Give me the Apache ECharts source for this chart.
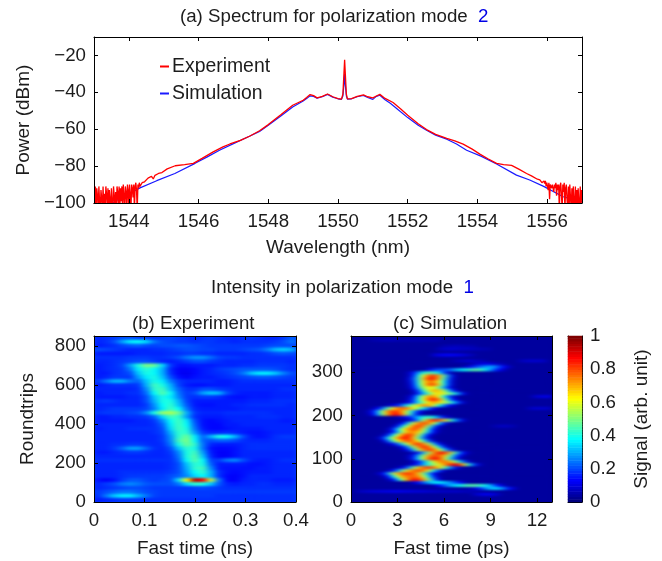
<!DOCTYPE html>
<html>
<head>
<meta charset="utf-8">
<style>
  html, body { margin: 0; padding: 0; background: #fff; }
  #chart { width: 662px; height: 561px; }
  /* the heat panels sit on their own canvas layer: soften the cells like shaded interp, keep them inside the boxes */
  #chart canvas[data-zr-dom-id="zr_1"] {
    filter: url(#heatSoften);
    clip-path: path('M94 336h202v166h-202z M351 336h201v166h-201z');
  }
</style>
<script src="https://cdn.jsdelivr.net/npm/echarts@6/dist/echarts.min.js"></script>
</head>
<body>
<svg width="0" height="0" style="position:absolute">
  <filter id="heatSoften" x="0" y="0" width="100%" height="100%" color-interpolation-filters="sRGB">
    <feGaussianBlur stdDeviation="3 0.9"/>
  </filter>
</svg>
<div id="chart"></div>
<script>
// (a) spectrum
// noisy tails: samples every 0.02 nm, starting at noiseLeftStart / noiseRightStart
var noiseStep = 0.02;
var noiseLeftStart = 1543;
var noiseLeftPower = [-100,-104,-91,-103,-92,-96,-104,-91,-99,-104,-93,-97,-104,-91,-102,-95,-104,-91,-95,-103,-92,-104,-93,-98,-104,-92,-100,-104,-91,-96,-104,-94,-104,-91,-94,-103,-91,-104,-92,-99,-91,-104,-90,-96,-103,-91,-94,-104,-90,-93,-104,-90,-95,-104,-90,-92,-97,-90,-104,-91,-89,-93,-104,-90,-92,-89,-91,-90,-92,-89];
var noiseRightStart = 1555.75;
var noiseRightPower = [-87,-88,-87.5,-88.5,-88,-89,-88,-90,-88,-89.5,-88,-91,-89,-88,-93,-89,-98,-90,-89,-92,-90,-89,-94,-90,-92,-89,-96,-90,-93,-90,-104,-91,-89,-95,-104,-90,-94,-89,-104,-92,-90,-98,-104,-91,-104,-90,-97,-104,-92,-104,-91,-99,-104,-91,-104,-93,-104,-92,-100,-104,-91,-104,-93];
var expCurve = [[1544.4,-89.5],[1544.45,-88.5],[1544.5,-88],[1544.55,-86.5],[1544.6,-87.5],[1544.65,-85.5],[1544.7,-87],[1544.75,-85],[1544.8,-85.5],[1544.85,-84],[1544.95,-83.5],[1545.1,-81.5],[1545.33,-79.8],[1545.6,-79.2],[1545.85,-78.5],[1546.1,-75.8],[1546.42,-72.3],[1546.7,-69.6],[1546.9,-68],[1547.2,-66],[1547.46,-63.8],[1547.75,-60.8],[1548,-57.5],[1548.35,-52.3],[1548.7,-47],[1549,-44.3],[1549.1,-42.8],[1549.2,-41.2],[1549.3,-41.8],[1549.4,-43],[1549.55,-42.2],[1549.7,-40.9],[1549.85,-42.4],[1550,-43.4],[1550.1,-43.7],[1550.14,-41],[1550.17,-30],[1550.19,-22.3],[1550.21,-30],[1550.24,-41],[1550.27,-43.6],[1550.39,-43.4],[1550.55,-42.2],[1550.73,-41.4],[1550.85,-42.4],[1551,-43],[1551.1,-42],[1551.2,-41.1],[1551.35,-43.3],[1551.58,-45.5],[1551.8,-49],[1552,-52.4],[1552.3,-57],[1552.54,-60.2],[1552.8,-62.8],[1553.12,-65],[1553.35,-66.3],[1553.59,-68.1],[1553.85,-70.8],[1554.07,-73.5],[1554.3,-76],[1554.55,-78.5],[1554.75,-79.2],[1554.98,-79.6],[1555.2,-81.8],[1555.41,-84],[1555.55,-85.3],[1555.72,-87.1]];
var simCurve = [[1543.5,-100.5],[1543.7,-98],[1543.94,-95.7],[1544.32,-91.8],[1544.8,-87.9],[1545.32,-84],[1545.9,-78.5],[1546.25,-75],[1546.6,-71.4],[1547,-67.8],[1547.46,-63.8],[1547.75,-61.2],[1548,-57.8],[1548.35,-53],[1548.7,-48],[1549,-44.7],[1549.1,-43.4],[1549.2,-41.9],[1549.3,-42.2],[1549.4,-43.2],[1549.55,-42.4],[1549.7,-41.1],[1549.85,-42.6],[1550,-43.5],[1550.1,-43.8],[1550.14,-42],[1550.17,-36],[1550.19,-30],[1550.21,-36],[1550.24,-42],[1550.27,-43.7],[1550.39,-43.5],[1550.55,-42.4],[1550.73,-41.7],[1550.85,-42.8],[1551,-43.8],[1551.1,-42.2],[1551.2,-41.6],[1551.35,-44],[1551.5,-45.9],[1551.7,-49],[1552,-53.7],[1552.3,-57.8],[1552.54,-60.6],[1552.8,-63.2],[1553.12,-65.4],[1553.4,-68],[1553.69,-71.4],[1554.1,-74.6],[1554.55,-78.9],[1555.12,-84.9],[1555.5,-87.5],[1555.9,-91],[1556.46,-96.6],[1557,-99.4]];

// tick labels
var wavelengthTicks = [1544,1546,1548,1550,1552,1554,1556];
var powerTicks = [-100,-80,-60,-40,-20];
var expTimeTicks = [0,0.1,0.2,0.3,0.4];
var expRoundTicks = [0,200,400,600,800];
var simTimeTicks = [0,3,6,9,12];
var simRoundTicks = [0,100,200,300];
var barTicks = [0,0.2,0.4,0.6,0.8,1];

// (b) experiment, signal in percent, top row first
var expRows = [
[16,17,18,20,20,18,18,17,18,19,18,17,16,17,18,17,16,16,17,18,17,16,16,18,22],
[16,17,20,28,36,38,34,24,20,19,18,18,17,18,18,17,17,16,17,17,17,17,18,20,24],
[15,16,17,19,21,22,20,19,20,20,21,21,20,19,18,18,18,18,18,18,18,19,20,20,20],
[20,19,18,17,16,16,16,17,17,18,19,20,20,19,19,18,18,18,19,20,21,25,31,33,30],
[15,15,15,15,15,16,16,16,16,17,17,18,18,17,17,16,16,16,16,17,17,18,20,21,20],
[17,17,17,17,18,18,18,17,17,18,20,24,27,27,23,19,18,18,17,17,17,17,17,17,17],
[16,16,17,18,19,20,20,18,16,15,16,18,20,20,18,17,16,16,16,16,17,17,17,17,16],
[15,16,17,19,28,40,50,48,34,18,14,14,15,15,15,16,16,16,17,17,18,18,18,18,17],
[15,16,17,18,24,36,42,38,30,16,12,12,13,15,16,18,19,20,21,21,21,21,20,18,17],
[15,15,17,18,20,32,40,38,30,17,12,11,13,15,16,17,18,20,24,32,36,36,32,25,20],
[15,16,18,18,18,28,36,40,32,20,14,12,14,15,15,16,17,18,19,20,21,21,20,19,18],
[18,24,30,30,24,22,32,40,36,25,18,16,16,16,16,15,15,16,17,17,17,17,17,17,17],
[15,16,17,17,17,18,30,44,40,30,19,15,14,14,15,15,15,16,16,16,16,16,16,16,16],
[16,16,16,16,16,17,26,42,44,32,22,17,17,20,20,18,17,16,16,16,16,16,16,17,17],
[15,16,16,16,17,17,23,38,46,38,24,18,20,28,32,30,20,16,15,15,15,15,16,16,16],
[15,15,15,15,16,16,20,32,40,36,26,18,17,18,18,17,15,14,14,15,15,15,16,16,16],
[17,18,17,16,16,16,20,30,40,40,30,19,15,15,15,15,15,15,15,16,16,16,17,17,17],
[16,16,16,16,16,16,18,27,38,42,32,21,15,14,14,15,15,16,16,17,17,17,17,17,16],
[16,17,18,18,18,18,19,25,36,44,38,24,16,15,15,15,15,15,16,16,16,16,16,16,16],
[17,18,18,18,19,20,26,40,52,54,48,30,18,16,16,16,17,17,17,17,17,17,16,16,16],
[15,15,16,16,17,17,18,22,34,44,42,28,17,15,15,15,16,16,16,16,17,17,17,16,16],
[15,15,15,15,15,16,16,18,26,38,44,36,20,14,13,14,15,16,16,16,16,16,16,15,15],
[16,16,16,16,16,16,16,17,22,36,44,38,22,14,13,13,15,15,16,16,16,16,16,16,16],
[15,16,16,16,17,17,17,17,20,34,44,40,24,15,13,13,14,15,15,15,15,16,16,16,16],
[16,16,16,16,16,16,16,17,19,30,42,42,28,18,16,16,17,16,15,14,14,15,16,16,16],
[16,16,16,16,16,16,16,16,18,27,42,48,36,22,30,40,38,30,20,15,14,15,17,18,18],
[16,16,16,16,16,16,16,16,18,26,44,50,38,22,20,22,22,20,17,16,16,16,17,17,17],
[16,16,17,17,18,18,17,16,17,24,40,48,42,24,16,15,15,15,16,17,17,17,17,17,17],
[16,16,18,22,28,28,22,17,16,20,32,42,40,24,14,13,13,14,16,17,17,17,17,17,17],
[15,15,16,17,18,18,17,16,16,18,26,40,44,28,15,12,12,14,16,16,16,16,16,16,16],
[16,16,16,16,16,16,16,16,16,17,24,40,46,32,16,12,12,14,16,16,16,16,16,16,16],
[17,17,17,17,17,17,17,17,17,17,22,38,46,38,19,18,24,26,20,16,15,15,16,17,17],
[16,16,16,16,16,16,16,16,16,17,20,32,42,40,22,15,15,15,15,14,14,15,16,16,16],
[16,16,16,16,16,16,16,16,16,17,20,30,42,44,26,15,14,14,14,14,15,15,16,16,16],
[16,16,16,17,17,17,17,17,17,18,20,28,38,42,30,17,14,13,14,15,15,15,16,16,16],
[16,16,16,17,18,18,18,18,18,20,22,26,34,38,30,17,13,12,14,16,16,16,16,16,16],
[14,12,14,18,21,21,19,18,19,20,34,62,95,88,56,24,13,12,15,16,16,16,15,15,15],
[16,18,20,24,26,24,21,20,20,20,24,34,42,40,32,21,16,15,16,16,17,17,16,16,16],
[16,17,18,19,20,20,19,18,18,18,18,18,19,20,19,18,17,17,17,17,17,17,17,17,17],
[18,20,22,24,24,22,20,19,18,18,18,18,18,18,18,18,18,18,18,18,18,18,18,18,18],
[17,24,32,36,36,30,24,19,18,18,18,18,18,18,18,17,17,17,17,17,17,17,17,17,17],
[15,16,17,18,18,18,17,17,17,17,17,17,17,17,17,17,17,17,17,17,17,17,17,17,17]
];

// (c) simulation, top row first. each row: first column, then its values; the rest is background
var simCols = 40;
var simBackground = 3;
var simRows = [
[],
[4,5,5,6,6,6,5,5,5,5,5,5,5,5,5],
[],
[18,5,5,6,6,5,5,5],
[17,6,7,8,8,7,7,7,6,6,5,5],
[],
[16,8,11,12,13,12,11,9,7,5],
[],
[20,5,6,7,8,7,6,5],
[24,6,8,10,10,8,6,5],
[22,6,10,16,22,26,30,28,20,12,7],
[15,10,16,20,20,22,28,34,38,42,46,46,40,30,20,12,7],
[11,6,14,28,40,46,44,36,20,8],
[11,6,16,38,62,78,82,72,48,24,8],
[11,8,20,42,68,84,85,70,44,20,7],
[11,7,18,40,64,74,74,62,38,18,6],
[11,6,16,38,62,78,80,66,40,18,6],
[11,5,14,32,54,62,60,48,30,14,5],
[12,8,20,40,60,70,68,54,32,14,5],
[12,6,16,30,44,60,66,60,50,42,26,10],
[11,6,14,36,58,72,74,62,38,20,8],
[11,7,18,40,62,78,85,76,54,30,12,5],
[10,6,10,20,36,52,64,72,66,58,48,34,18,7],
[7,6,10,16,28,42,54,66,74,70,58,40,26,14,8],
[4,6,12,26,46,64,76,78,74,62,50,36,24,12,6],
[3,6,14,32,56,76,82,80,68,48,30,14,6],
[3,5,12,30,54,74,86,85,70,46,24,10,4],
[9,6,10,14,22,32,40,44,38,26,14,7],
[11,6,14,30,54,76,85,82,66,52,34,20,8],
[9,6,14,34,58,74,80,76,60,36,16,6],
[8,6,16,38,60,76,82,74,50,26,10,4],
[7,6,16,38,62,74,80,76,58,34,14,5],
[7,6,14,34,58,72,74,66,50,30,12,5],
[6,6,16,38,62,78,84,74,54,30,12,5],
[5,6,16,38,60,76,86,84,68,44,22,8],
[6,8,22,44,62,74,80,74,62,42,22,8],
[7,6,12,24,42,62,78,84,74,56,32,14,5],
[9,6,14,30,54,74,84,78,60,36,16,6],
[10,6,14,32,56,74,82,78,62,40,20,8],
[12,6,14,30,52,72,85,86,72,50,28,12,5],
[11,6,14,32,54,72,80,78,70,52,30,14,6],
[11,6,16,36,60,78,86,84,66,42,22,8],
[12,6,14,28,44,60,72,76,72,58,40,22,8],
[11,5,10,18,30,42,52,60,70,82,90,86,66,40,20,8],
[9,6,12,26,48,68,78,82,78,66,50,32,18,8],
[7,6,14,30,52,68,76,80,74,58,36,20,8],
[5,6,12,30,56,72,80,82,78,68,48,28,12,5],
[6,6,14,36,58,72,76,78,74,58,36,16,6],
[7,6,14,34,58,76,86,84,72,50,26,10],
[12,8,14,22,30,36,38,34,28,22,14,8],
[16,6,12,20,28,34,38,42,46,46,44,40,32,22,12,6],
[23,5,8,14,22,30,34,32,24,14,8],
[1,6,7,8,9,9,10,10,11,11,10,10,9,9,9,8,8,7,7,7,7,7,6,6,5,4],
[24,6,9,11,11,9,6],
[],
[]
];
// faint streaks near the right edge: row, first column, values
var simStreaks = [[20,36,7,9,10,10],[24,35,6,8,8,8,7],[30,28,5,6,7,6,5],[8,33,5,7,8,8,8,7]];

var barLevels = [];
for (var i = 0; i < 64; i++) barLevels.push(i);

var fontName = '"Liberation Sans", Arial, sans-serif';
var inkColor = '#1c1c1c';
var jetColors = ['#00007f','#0000ff','#007fff','#00ffff','#7fff7f','#ffff00','#ff7f00','#ff0000','#7f0000'];

function tailPoints(start, powers) {
  return powers.map(function (p, k) { return [start + k * noiseStep, p]; });
}
var expLine = tailPoints(noiseLeftStart, noiseLeftPower).concat(expCurve, tailPoints(noiseRightStart, noiseRightPower));

function matrixCells(rows) {
  var cells = [];
  rows.forEach(function (row, r) {
    row.forEach(function (v, c) { cells.push([c, rows.length - 1 - r, v]); });
  });
  return cells;
}

// expand the sparse rows of the simulation panel
var simMatrix = simRows.map(function (row) {
  var full = [];
  for (var c = 0; c < simCols; c++) full.push(simBackground);
  for (var k = 1; k < row.length; k++) full[row[0] + k - 1] = row[k];
  return full;
});
simStreaks.forEach(function (s) {
  for (var k = 2; k < s.length; k++) simMatrix[s[0]][s[1] + k - 2] = s[k];
});

function indexList(n) {
  var a = [];
  for (var k = 0; k < n; k++) a.push(k);
  return a;
}

function minusLabel(v) {
  return String(v).replace('-', '\u2212');
}

var xAxes = [], yAxes = [];

// one value axis of a panel box
function boxAxis(gridIndex, position, min, max, ticks, showLabels, name, nameGap, tickOn) {
  var vertical = position === 'left' || position === 'right';
  return {
    type: 'value', gridIndex: gridIndex, position: position, min: min, max: max, zlevel: 2,
    axisLine: { show: true, onZero: false, lineStyle: { color: '#000', width: 1 } },
    axisTick: { show: tickOn !== false, inside: true, length: 4, customValues: ticks, lineStyle: { color: '#000', width: 1 } },
    axisLabel: { show: showLabels, customValues: ticks, margin: vertical ? 8 : 9, padding: vertical ? [8, 0, 0, 0] : 0,
      fontFamily: fontName, fontSize: 18.7, color: inkColor, formatter: minusLabel },
    splitLine: { show: false },
    name: name || '', nameLocation: 'middle', nameGap: nameGap || 0,
    nameTextStyle: { fontFamily: fontName, fontSize: 19, color: inkColor }
  };
}

// adds the four sides of a panel
function addBox(g, xr, yr, xTicks, yTicks, xName, xGap, yName, yGap) {
  xAxes.push(boxAxis(g, 'bottom', xr[0], xr[1], xTicks, true, xName, xGap));
  xAxes.push(boxAxis(g, 'top', xr[0], xr[1], xTicks, false));
  yAxes.push(boxAxis(g, 'left', yr[0], yr[1], yTicks, true, yName, yGap));
  yAxes.push(boxAxis(g, 'right', yr[0], yr[1], yTicks, false));
}

// hidden category axes that carry the cells of a heat panel; returns their indexes
function addCellAxes(g, nx, ny) {
  xAxes.push({ type: 'category', gridIndex: g, show: false, data: indexList(nx) });
  yAxes.push({ type: 'category', gridIndex: g, show: false, data: indexList(ny) });
  return { x: xAxes.length - 1, y: yAxes.length - 1 };
}

function heatSeries(name, axes, cells, layer) {
  return {
    name: name, type: 'heatmap', xAxisIndex: axes.x, yAxisIndex: axes.y, data: cells, zlevel: layer,
    silent: true, progressive: 0, emphasis: { disabled: true }, itemStyle: { borderWidth: 0 }
  };
}

// panel (a)
addBox(0, [1543, 1557], [-100, -10], wavelengthTicks, powerTicks, 'Wavelength (nm)', 35, 'Power (dBm)', 60);
// panel (b)
addBox(1, [0, 0.4], [0, 851], expTimeTicks, expRoundTicks, 'Fast time (ns)', 37, 'Roundtrips', 57);
var expAxes = addCellAxes(1, expRows[0].length, expRows.length);
// panel (c)
addBox(2, [0, 12.96], [0, 384], simTimeTicks, simRoundTicks, 'Fast time (ps)', 37);
var simAxes = addCellAxes(2, simCols, simRows.length);

// colour bar: box without ticks, ticks and labels on the right
xAxes.push(boxAxis(3, 'bottom', 0, 1, [], false, '', 0, false));
xAxes.push(boxAxis(3, 'top', 0, 1, [], false, '', 0, false));
yAxes.push(boxAxis(3, 'left', 0, 1, barTicks, false, '', 0, false));
yAxes.push(boxAxis(3, 'right', 0, 1, barTicks, true, 'Signal (arb. unit)', 50));
var barAxes = addCellAxes(3, 1, barLevels.length);
var barCells = barLevels.map(function (lv, k) { return [0, k, lv * 100 / (barLevels.length - 1)]; });

function panelTitle(text, left, top) {
  return {
    text: text, left: left, top: top, padding: 0,
    textStyle: { fontFamily: fontName, fontSize: 18.7, fontWeight: 'normal', color: inkColor,
      rich: { m: { fontFamily: fontName, fontSize: 18.7, color: '#0000e6' } } }
  };
}

var option = {
  animation: false,
  backgroundColor: '#fff',
  textStyle: { fontFamily: fontName },
  title: [
    panelTitle('(a) Spectrum for polarization mode  {m|2}', 180, 7),
    panelTitle('Intensity in polarization mode  {m|1}', 211, 278),
    panelTitle('(b) Experiment', 132, 314),
    panelTitle('(c) Simulation', 393, 314)
  ],
  legend: {
    data: ['Experiment', 'Simulation'],
    orient: 'vertical', left: 160, top: 57, padding: 0, itemWidth: 9, itemHeight: 2, itemGap: 8,
    icon: 'rect', selectedMode: false,
    textStyle: { fontFamily: fontName, fontSize: 19.4, color: inkColor, padding: [0, 0, 0, -2], lineHeight: 18 }
  },
  grid: [
    { left: 94, top: 37, width: 488, height: 166 },
    { left: 94, top: 336, width: 202, height: 166, show: true, backgroundColor: '#0040ff', borderWidth: 0 },
    { left: 351, top: 336, width: 201, height: 166, show: true, backgroundColor: '#00009a', borderWidth: 0 },
    { left: 568, top: 336, width: 14, height: 166 }
  ],
  xAxis: xAxes,
  yAxis: yAxes,
  visualMap: {
    show: false, type: 'continuous', min: 0, max: 100, dimension: 2,
    seriesIndex: [2, 3, 4], inRange: { color: jetColors }
  },
  series: [
    { name: 'Simulation', type: 'line', xAxisIndex: 0, yAxisIndex: 0, data: simCurve, showSymbol: false,
      color: '#1a1aff', lineStyle: { color: '#1a1aff', width: 1.2 }, clip: true, silent: true },
    { name: 'Experiment', type: 'line', xAxisIndex: 0, yAxisIndex: 0, data: expLine, showSymbol: false,
      color: '#ff0000', lineStyle: { color: '#ff0000', width: 1.3 }, clip: true, silent: true },
    heatSeries('Experiment intensity', expAxes, matrixCells(expRows), 1),
    heatSeries('Simulation intensity', simAxes, matrixCells(simMatrix), 1),
    heatSeries('Colour bar', barAxes, barCells, 2)
  ]
};

var chart = echarts.init(document.getElementById('chart'), null, { renderer: 'canvas' });
chart.setOption(option);
</script>
</body>
</html>
